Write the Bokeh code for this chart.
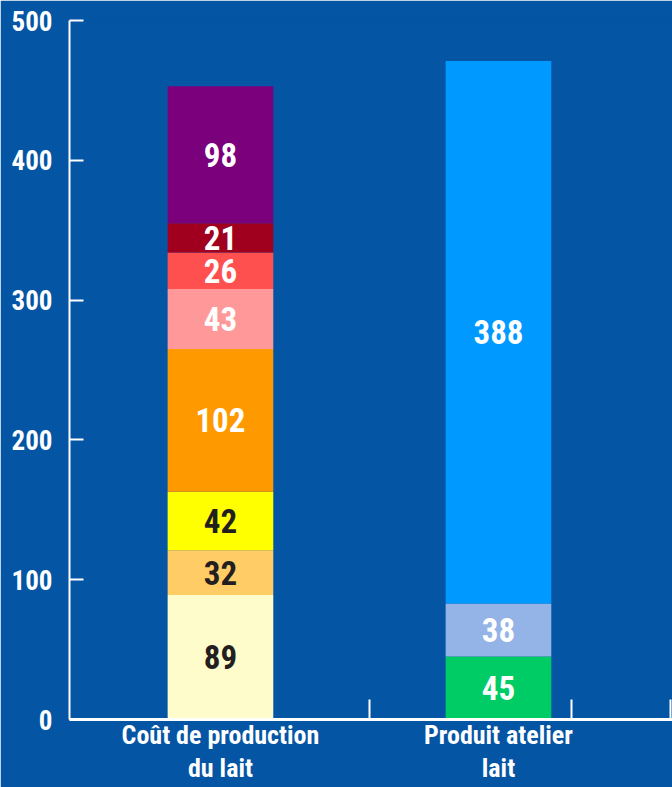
from bokeh.plotting import figure
from bokeh.models import ColumnDataSource, FixedTicker, Range1d, LinearAxis
from bokeh.core.properties import value
from bokeh.embed import file_html
from bokeh.resources import INLINE

# ---- data ----
categories_line1 = ["Coût de production", "Produit atelier"]
categories_line2 = ["du lait", "lait"]
cout_values = [89, 32, 42, 102, 43, 26, 21, 98]
cout_colors = ["#FFFCCC", "#FFCC66", "#FFFF00", "#FF9900", "#FF9999", "#FF5050", "#A0001E", "#7B007B"]
cout_text_colors = ["#231F20", "#231F20", "#231F20", "white", "white", "white", "white", "white"]
produit_values = [45, 38, 388]
produit_colors = ["#00CC66", "#94B3E6", "#0099FF"]
produit_text_colors = ["white", "white", "white"]
y_ticks = [0, 100, 200, 300, 400, 500]
boundary_ticks = [0.536, 1.263, 1.619]

BG = "#0455A4"
FONT = "Roboto Condensed, Roboto, sans-serif"

def stack(vals, colors, tcolors, x):
    bottoms, tops, mids = [], [], []
    acc = 0
    for v in vals:
        bottoms.append(acc)
        tops.append(acc + v)
        mids.append(acc + v / 2)
        acc += v
    return dict(x=[x] * len(vals), bottom=bottoms, top=tops, mid=mids,
                color=colors, tcolor=tcolors, label=[str(v) for v in vals])

src = ColumnDataSource(stack(cout_values, cout_colors, cout_text_colors, 0))
src2 = ColumnDataSource(stack(produit_values, produit_colors, produit_text_colors, 1))

p = figure(width=672, height=787, output_backend="svg", toolbar_location=None,
           x_range=Range1d(-0.543, 1.626), y_range=Range1d(0, 500),
           background_fill_color=BG, border_fill_color=BG,
           min_border_left=69, min_border_right=0, min_border_top=20, min_border_bottom=68)
p.outline_line_color = BG
p.outline_line_width = 2
p.grid.visible = False

for s in (src, src2):
    p.vbar(x="x", bottom="bottom", top="top", width=0.38, color="color", line_color=None, source=s)
    p.text(x="x", y="mid", text="label", text_color="tcolor", source=s,
           text_align="center", text_baseline="middle",
           text_font=value(FONT), text_font_style="bold", text_font_size="33px")

# y axis
ya = p.yaxis[0]
ya.ticker = FixedTicker(ticks=y_ticks)
ya.axis_line_color = "white"
ya.axis_line_width = 2
ya.major_tick_line_color = "white"
ya.major_tick_line_width = 2
ya.major_tick_in = 14
ya.major_tick_out = 0
ya.minor_tick_line_color = None
ya.major_label_text_color = "white"
ya.major_label_text_font = FONT
ya.major_label_text_font_style = "bold"
ya.major_label_text_font_size = "27px"
ya.major_label_standoff = 17

# x axis: first line of category names, axis line and boundary ticks
xa = p.xaxis[0]
xa.ticker = FixedTicker(ticks=[0, 1], minor_ticks=boundary_ticks)
xa.major_label_overrides = {0: categories_line1[0], 1: categories_line1[1]}
xa.axis_line_color = "white"
xa.axis_line_width = 3
xa.major_tick_line_color = None
xa.major_tick_out = 0
xa.major_tick_in = 0
xa.minor_tick_line_color = "white"
xa.minor_tick_line_width = 2
xa.minor_tick_in = 20
xa.minor_tick_out = 0
xa.major_label_text_color = "white"
xa.major_label_text_font = FONT
xa.major_label_text_font_style = "bold"
xa.major_label_text_font_size = "26px"
xa.major_label_standoff = 0

# second line of category names
xa2 = LinearAxis(ticker=FixedTicker(ticks=[0, 1]),
                 major_label_overrides={0: categories_line2[0], 1: categories_line2[1]})
xa2.axis_line_color = None
xa2.major_tick_line_color = None
xa2.minor_tick_line_color = None
xa2.major_tick_out = 0
xa2.major_tick_in = 0
xa2.major_label_text_color = "white"
xa2.major_label_text_font = FONT
xa2.major_label_text_font_style = "bold"
xa2.major_label_text_font_size = "26px"
xa2.major_label_standoff = 0
p.add_layout(xa2, "below")

open("out.html", "w").write(file_html(p, INLINE))
